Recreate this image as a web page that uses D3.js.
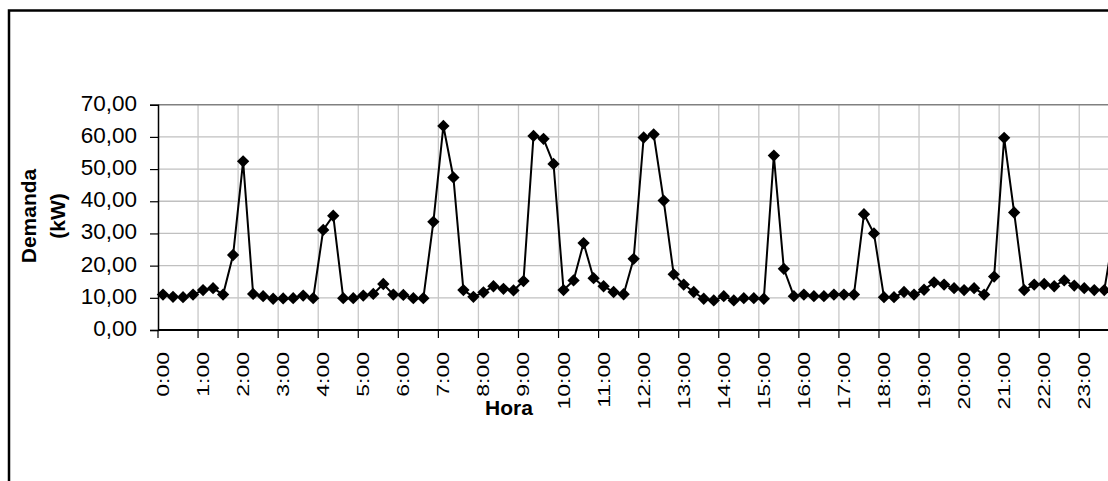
<!DOCTYPE html>
<html>
<head>
<meta charset="utf-8">
<script src="https://cdn.jsdelivr.net/npm/d3@7"></script>
<style>
html,body{margin:0;padding:0;background:#fff;overflow:hidden;}
svg{display:block;font-family:Arial,"Liberation Sans",sans-serif;}
</style>
</head>
<body>
<svg id="chart" width="1108" height="481"></svg>
<script>
const categories = [
 "0:00","0:15","0:30","0:45","1:00","1:15","1:30","1:45","2:00","2:15","2:30","2:45",
 "3:00","3:15","3:30","3:45","4:00","4:15","4:30","4:45","5:00","5:15","5:30","5:45",
 "6:00","6:15","6:30","6:45","7:00","7:15","7:30","7:45","8:00","8:15","8:30","8:45",
 "9:00","9:15","9:30","9:45","10:00","10:15","10:30","10:45","11:00","11:15","11:30","11:45",
 "12:00","12:15","12:30","12:45","13:00","13:15","13:30","13:45","14:00","14:15","14:30","14:45",
 "15:00","15:15","15:30","15:45","16:00","16:15","16:30","16:45","17:00","17:15","17:30","17:45",
 "18:00","18:15","18:30","18:45","19:00","19:15","19:30","19:45","20:00","20:15","20:30","20:45",
 "21:00","21:15","21:30","21:45","22:00","22:15","22:30","22:45","23:00","23:15","23:30","23:45"
];
const demanda = [
 11.0,10.3,10.2,11.0,12.4,13.0,11.0,23.3,52.4,11.2,10.5,9.7,
 9.8,9.9,10.7,9.9,31.1,35.5,9.9,9.9,10.7,11.2,14.3,11.0,
 10.9,9.9,9.9,33.6,63.4,47.4,12.4,10.3,11.7,13.6,12.8,12.3,
 15.2,60.3,59.4,51.6,12.4,15.4,27.0,16.1,13.6,11.8,11.1,22.1,
 59.8,60.8,40.2,17.3,14.1,11.8,9.7,9.2,10.5,9.2,9.9,9.9,
 9.7,54.2,19.0,10.5,11.0,10.5,10.5,11.0,11.0,11.0,36.0,30.0,
 10.2,10.2,11.8,11.0,12.5,14.8,14.1,13.0,12.4,13.0,11.0,16.6,
 59.7,36.5,12.4,14.1,14.3,13.6,15.4,13.8,13.0,12.4,12.4,31.0
];
const hourLabels = ["0:00","1:00","2:00","3:00","4:00","5:00","6:00","7:00","8:00","9:00","10:00","11:00",
 "12:00","13:00","14:00","15:00","16:00","17:00","18:00","19:00","20:00","21:00","22:00","23:00"];
const yTicks = [0,10,20,30,40,50,60,70];
const yTitle = ["Demanda","(kW)"];
const xTitle = "Hora";

const svg = d3.select("#chart");
const pLeft = 158, pTop = 104.7, pBottom = 330, pRight = 1119.3;

// outer frame
svg.append("rect").attr("x",9).attr("y",10.5).attr("width",1200).attr("height",600)
  .attr("fill","#fff").attr("stroke","#000").attr("stroke-width",2.5);

const x = d3.scaleBand().domain(categories).range([pLeft, pRight]).paddingInner(0).paddingOuter(0);
const y = d3.scaleLinear().domain([0,70]).range([pBottom, pTop]);
const bw = x.bandwidth();

// gridlines
const grid = svg.append("g");
grid.selectAll("line.h").data(yTicks.filter(d=>d>0 && d<70)).join("line")
  .attr("x1",pLeft).attr("x2",pRight).attr("y1",d=>y(d)).attr("y2",d=>y(d))
  .attr("stroke","#c0c0c0").attr("stroke-width",1.3);
grid.selectAll("line.v").data(hourLabels.slice(1)).join("line")
  .attr("x1",d=>x(d)).attr("x2",d=>x(d)).attr("y1",pTop).attr("y2",pBottom)
  .attr("stroke","#c8c8c8").attr("stroke-width",1.3);
// plot area top border
svg.append("line").attr("x1",pLeft).attr("x2",pRight).attr("y1",y(70)).attr("y2",y(70))
  .attr("stroke","#808080").attr("stroke-width",1.5);

// y axis
const yAxis = d3.axisLeft(y).tickValues(yTicks).tickSize(8).tickPadding(13)
  .tickFormat(d=>d.toFixed(2).replace(".",","));
const ya = svg.append("g").attr("transform",`translate(${pLeft},0)`).call(yAxis);
ya.select(".domain").attr("stroke","#000").attr("stroke-width",1.5);
ya.selectAll(".tick line").attr("stroke","#000").attr("stroke-width",1.2);
ya.selectAll(".tick text").attr("font-size",22.5).attr("font-family","Arial, 'Liberation Sans', sans-serif")
  .attr("fill","#000").attr("dy",null).attr("y",5.5);

// x axis line and ticks
svg.append("line").attr("x1",pLeft).attr("x2",pRight).attr("y1",pBottom).attr("y2",pBottom)
  .attr("stroke","#000").attr("stroke-width",1.8);
svg.append("g").selectAll("line").data(hourLabels).join("line")
  .attr("x1",d=>x(d)).attr("x2",d=>x(d)).attr("y1",pBottom).attr("y2",pBottom+8)
  .attr("stroke","#000").attr("stroke-width",1.2);
svg.append("g").selectAll("text").data(hourLabels).join("text")
  .attr("transform",d=>`translate(${x(d)+bw/2},352) scale(0.72,1) rotate(-90)`)
  .attr("text-anchor","end").attr("dy","0.36em")
  .attr("font-size",23).attr("fill","#000").text(d=>d);

// line and markers
const line = d3.line().x((d,i)=>x(categories[i])+bw/2).y(d=>y(d));
svg.append("path").datum(demanda).attr("d",line).attr("fill","none")
  .attr("stroke","#000").attr("stroke-width",2);
svg.append("g").selectAll("path").data(demanda).join("path")
  .attr("transform",(d,i)=>`translate(${x(categories[i])+bw/2},${y(d)}) rotate(45)`)
  .attr("d",d3.symbol().type(d3.symbolSquare).size(76)).attr("fill","#000");

// titles
const yt = svg.append("text").attr("transform","translate(36,216) rotate(-90)")
  .attr("text-anchor","middle").attr("font-size",21).attr("font-weight","bold").attr("fill","#000");
yt.append("tspan").attr("x",0).attr("y",0).text(yTitle[0]);
yt.append("tspan").attr("x",0).attr("y",28.5).text(yTitle[1]);
svg.append("text").attr("x",509).attr("y",415).attr("text-anchor","middle")
  .attr("font-size",21).attr("font-weight","bold").attr("fill","#000").text(xTitle);
</script>
</body>
</html>
